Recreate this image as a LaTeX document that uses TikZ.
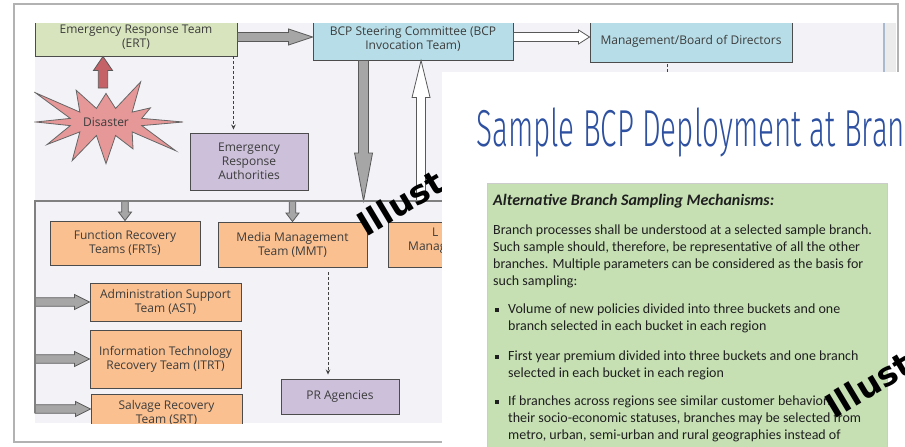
\documentclass[tikz,border=0pt]{standalone}
\usepackage{fontspec}
\usepackage{graphicx}
\setmainfont{Open Sans}
\newfontfamily\bodyfont{Carlito}
\newfontfamily\titlefont{Fira Sans Light}
\newfontfamily\markfont{DejaVu Sans}
\usetikzlibrary{calc,arrows.meta,shapes.symbols}

\definecolor{ertgreen}{RGB}{215,228,189}
\definecolor{bcpblue}{RGB}{183,222,232}
\definecolor{lilac}{RGB}{204,192,218}
\definecolor{peach}{RGB}{250,192,144}
\definecolor{diagbg}{RGB}{243,242,247}
\definecolor{burst}{RGB}{230,152,152}
\definecolor{burstarrow}{RGB}{196,98,104}
\definecolor{slidegreen}{RGB}{198,224,180}
\definecolor{titleblue}{RGB}{45,80,160}
\definecolor{boxtext}{RGB}{60,60,60}
\definecolor{edgeblue}{RGB}{170,185,205}

\tikzset{
  box/.style={draw=black!70, line width=0.9pt, inner sep=0pt, align=center,
    text=boxtext, font=\fontsize{12}{14}\selectfont},
  greenbox/.style={box, fill=ertgreen},
  bluebox/.style={box, fill=bcpblue},
  lilacbox/.style={box, fill=lilac},
  peachbox/.style={box, fill=peach},
  blockarrow/.style={draw=black!65, line width=0.8pt, fill=black!35, line join=miter},
  hollowarrow/.style={fill=white},
  bus/.style={draw=black!50, line width=2.2pt},
  dotline/.style={draw=black!75, line width=0.9pt, dash pattern=on 3pt off 2pt},
  dotarrow/.style={dotline, -{Stealth[length=5pt,width=4.5pt]}},
  slidetext/.style={anchor=base west, inner sep=0pt, text=black!88,
    font=\bodyfont\fontsize{14}{17}\selectfont},
  stamp/.style={anchor=base west, inner sep=0pt, rotate=31,
    font=\markfont\bfseries\fontsize{33}{33}\selectfont},
}

% block arrow: [style]{half shaft}{half head}{head length}{from}{to}
\newcommand{\blockarrow}[6][]{%
  \coordinate (ba-h) at ($(#6)!#4!(#5)$);
  \draw[blockarrow,#1] ($(#5)!#2!90:(#6)$) -- ($(ba-h)!#2!90:(#6)$)
    -- ($(ba-h)!#3!90:(#6)$) -- (#6) -- ($(ba-h)!#3!-90:(#6)$)
    -- ($(ba-h)!#2!-90:(#6)$) -- ($(#5)!#2!-90:(#6)$) -- cycle;}

\begin{document}
\begin{tikzpicture}[x=1pt,y=-1pt]
\useasboundingbox (0,0) rectangle (905,447);

%screenshot frame
\draw[black!30, line width=1.5pt, fill=white] (14,4) rectangle (898,442);
\fill[diagbg] (35,23) rectangle (884,423);
\fill[black!8] (884,23) rectangle (896,72);
\draw[edgeblue, line width=1.2pt] (884,23) -- (884,72);

\begin{scope}
\clip (34,23) rectangle (884,423);

%top row
\node[greenbox, minimum width=202pt, minimum height=38pt] (ert) at (136,37) {Emergency Response Team\\(ERT)};
\node[bluebox, minimum width=200pt, minimum height=42pt] (bcp) at (413,39) {BCP Steering Committee (BCP\\Invocation Team)};
\node[bluebox, minimum width=202pt, minimum height=42pt] (mgmt) at (691,41) {Management/Board of Directors};

\node[starburst, draw=black!60, fill=burst, line width=0.8pt, starburst points=12,
  starburst point height=46pt, random starburst=3, minimum width=166pt, minimum height=120pt,
  inner sep=0pt, text=boxtext, font=\fontsize{12}{14}\selectfont] (disaster) at (106,122) {Disaster};
\node[lilacbox, minimum width=118pt, minimum height=57pt] (era) at (249,161.5) {Emergency\\Response\\Authorities};

%teams
\node[peachbox, minimum width=150pt, minimum height=44pt] (frt) at (125,243) {Function Recovery\\Teams (FRTs)};
\node[peachbox, minimum width=149pt, minimum height=45pt] (mmt) at (292.5,244.5) {Media Management\\Team (MMT)};
\node[peachbox, minimum width=152pt, minimum height=45pt] (leg) at (464,244.5) {};
\node[anchor=base west, inner sep=0pt, text=boxtext, font=\fontsize{12}{14}\selectfont] (legl) at (432,236) {L};
\node[anchor=base west, inner sep=0pt, text=boxtext, font=\fontsize{12}{14}\selectfont] (legm) at (408,250) {Manag};
\node[peachbox, minimum width=151pt, minimum height=38pt] (ast) at (165.5,302) {Administration Support\\Team (AST)};
\node[peachbox, minimum width=151pt, minimum height=58pt] (itrt) at (165.5,359) {Information Technology\\Recovery Team (ITRT)};
\node[peachbox, minimum width=151pt, minimum height=37pt] (srt) at (166.5,412.5) {Salvage Recovery\\Team (SRT)};
\node[lilacbox, minimum width=118pt, minimum height=35pt] (pr) at (340,396.5) {PR Agencies};

%bus
\coordinate (busL) at (35,201);
\coordinate (busR) at (460,201);
\coordinate (busB) at (35,413);

\coordinate (redfoot) at ([xshift=-3pt,yshift=34pt]disaster.center);
\coordinate (redtop) at (redfoot |- ert.south);
\coordinate (bcpin) at (ert.east -| bcp.west);
\coordinate (bcpout) at (bcp.east |- ert.east);
\coordinate (mgin) at (mgmt.west |- ert.east);
\coordinate (dntop) at ([xshift=51pt]bcp.south west);
\coordinate (dnbot) at (dntop |- busL);
\coordinate (uptop) at ([xshift=108.5pt]bcp.south west);
\coordinate (upbot) at (uptop |- busL);
\coordinate (frttop) at (frt.north |- busL);
\coordinate (mmttop) at (mmt.north |- busL);
\coordinate (astfoot) at (busL |- ast.west);
\coordinate (itrtfoot) at (busL |- itrt.west);
\coordinate (srtin) at ([yshift=3.5pt]srt.west);
\coordinate (srtfoot) at (busL |- srtin);

\blockarrow[fill=burstarrow]{4.7pt}{9.5pt}{14pt}{redfoot}{redtop}
\blockarrow{4.5pt}{8pt}{24pt}{ert.east}{bcpin}
\blockarrow[hollowarrow]{4.5pt}{7pt}{11pt}{bcpout}{mgin}
\blockarrow{5pt}{9pt}{48pt}{dntop}{dnbot}
\blockarrow[hollowarrow]{4.5pt}{9pt}{37pt}{upbot}{uptop}
\blockarrow{3.3pt}{6.5pt}{8.5pt}{frttop}{frt.north}
\blockarrow{3.3pt}{6.5pt}{8.5pt}{mmttop}{mmt.north}
\blockarrow{4.2pt}{7.5pt}{15pt}{astfoot}{ast.west}
\blockarrow{4.2pt}{7.5pt}{15pt}{itrtfoot}{itrt.west}
\blockarrow{4.2pt}{7.5pt}{15pt}{srtfoot}{srtin}

\draw[bus] (busB) -- (busL) -- (busR);

%dotted links
\coordinate (eradot) at ([xshift=-4pt]ert.south east);
\coordinate (mmtdot) at ([xshift=35.5pt]mmt.south);
\coordinate (mgdot) at ([xshift=-24pt]mgmt.south);
\coordinate (mgend) at ([yshift=-40pt]mgdot);
\draw[dotarrow, shorten >=3pt] (eradot) -- (eradot |- era.north);
\draw[dotarrow, shorten <=5pt, shorten >=4pt] (mmtdot) -- (mmtdot |- pr.north);
\draw[dotline, shorten <=2pt] (mgdot) -- (mgend);
\end{scope}

\node[stamp] (stamp1) at (366,238) {Illust};

%slide on top
\fill[white] (442,72) rectangle (910,450);
\node[anchor=base west, inner sep=0pt, text=titleblue] (title) at (476,146)
  {\resizebox{429pt}{\height}{\titlefont\fontsize{52}{52}\selectfont Sample BCP Deployment at Bran}};

\node[fill=slidegreen, draw=black!20, minimum width=400pt, minimum height=280pt,
  anchor=north west, inner sep=0pt] (panel) at (487,183) {};
\node[slidetext, font=\bodyfont\bfseries\itshape\fontsize{16}{17}\selectfont] (head) at (493,205) {Alternative Branch Sampling Mechanisms:};
\node[slidetext] (p1) at (493,234) {Branch processes shall be understood at a selected sample branch.};
\node[slidetext] (p2) at (493,251) {Such sample should, therefore, be representative of all the other};
\node[slidetext] (p3) at (493,268) {branches. Multiple parameters can be considered as the basis for};
\node[slidetext] (p4) at (493,285) {such sampling:};

\node[slidetext] (sq1) at (495,313) {\raisebox{1.5pt}{\rule{3.5pt}{3.5pt}}};
\node[slidetext] (b1a) at (508,313) {Volume of new policies divided into three buckets and one};
\node[slidetext] (b1b) at (508,330) {branch selected in each bucket in each region};
\node[slidetext] (sq2) at (495,360) {\raisebox{1.5pt}{\rule{3.5pt}{3.5pt}}};
\node[slidetext] (b2a) at (508,360) {First year premium divided into three buckets and one branch};
\node[slidetext] (b2b) at (508,377) {selected in each bucket in each region};
\node[slidetext] (sq3) at (495,405) {\raisebox{1.5pt}{\rule{3.5pt}{3.5pt}}};
\node[slidetext] (b3a) at (508,405) {If branches across regions see similar customer behaviors};
\node[slidetext] (b3b) at (508,422) {their socio-economic statuses, branches may be selected from};
\node[slidetext] (b3c) at (508,439) {metro, urban, semi-urban and rural geographies instead of};

\node[stamp] (stamp2) at (834,420) {Illust};
\end{tikzpicture}
\end{document}
